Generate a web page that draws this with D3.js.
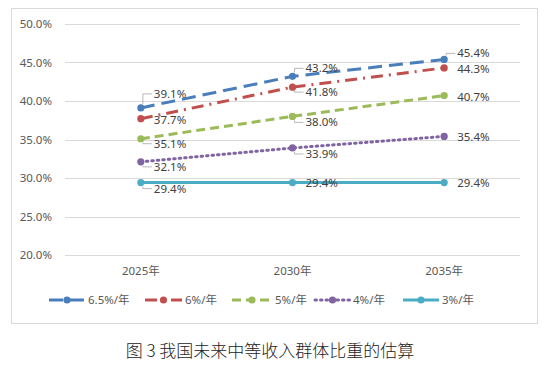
<!DOCTYPE html>
<html><head><meta charset="utf-8">
<script src="https://cdn.jsdelivr.net/npm/d3@7"></script>
<style>body{margin:0;background:#fff;} text{font-family:"Noto Sans","Noto Sans CJK SC",sans-serif;}</style>
</head><body>
<svg id="c" width="550" height="365"></svg>
<script>
const categories = ["2025年","2030年","2035年"];
const seriesNames = ["6.5%/年","6%/年","5%/年","4%/年","3%/年"];
const v65 = [39.1, 43.2, 45.4];
const v6  = [37.7, 41.8, 44.3];
const v5  = [35.1, 38.0, 40.7];
const v4  = [32.1, 33.9, 35.4];
const v3  = [29.4, 29.4, 29.4];
const yTicks = [20,25,30,35,40,45,50];
const colors = ["#4a7ebb","#c0504d","#9bbb59","#8064a2","#4bacc6"];
const dashes = ["14,7","12,6,2,6","9,5","1.5,4","none"];
const caption = "图 3  我国未来中等收入群体比重的估算";
// label vertical offsets from the point, per series per category
const labelDy = [[-14,-8,-6],[1,5,1],[5,6,1],[5,6,1],[6,0,0]];

const series = [v65,v6,v5,v4,v3];
const svg = d3.select("#c");
svg.append("rect").attr("x",11.5).attr("y",8.5).attr("width",526).attr("height",315)
  .attr("fill","#fff").attr("stroke","#d9d9d9");

const x = d3.scaleBand().domain(categories).range([65,520]);
const y = d3.scaleLinear().domain([20,50]).range([255,24]);
const cx = c => x(c)+x.bandwidth()/2;

// grid
svg.append("g").selectAll("line").data(yTicks).join("line")
  .attr("x1",65).attr("x2",520).attr("y1",d=>Math.round(y(d))+0.5).attr("y2",d=>Math.round(y(d))+0.5)
  .attr("stroke","#d9d9d9").attr("stroke-width",1);

const yAxis = d3.axisLeft(y).tickValues(yTicks).tickFormat(d=>d.toFixed(1)+"%").tickSize(0).tickPadding(13);
svg.append("g").attr("transform","translate(65,0)").call(yAxis)
  .call(g=>g.select(".domain").remove())
  .selectAll("text").attr("fill","#595959").style("font-size","11.5px");

const xAxis = d3.axisBottom(x).tickSize(0).tickPadding(12);
svg.append("g").attr("transform","translate(0,255)").call(xAxis)
  .call(g=>g.select(".domain").remove())
  .selectAll("text").attr("fill","#595959").style("font-size","11.5px");

const line = d3.line().x((d,i)=>cx(categories[i])).y(d=>y(d));
series.forEach((s,k)=>{
  svg.append("path").datum(s).attr("d",line).attr("fill","none")
    .attr("stroke",colors[k]).attr("stroke-width",3)
    .attr("stroke-dasharray",dashes[k]).attr("stroke-linecap", k===3?"round":"butt");
  svg.append("g").selectAll("circle").data(s).join("circle")
    .attr("cx",(d,i)=>cx(categories[i])).attr("cy",d=>y(d)).attr("r",3.6).attr("fill",colors[k]);
});
// labels
series.forEach((s,k)=>{
  s.forEach((d,i)=>{
    const px = cx(categories[i]), py = y(d);
    const dy = labelDy[k][i];
    const ly = py + dy;
    const lx = px + 13;
    if (Math.abs(dy)>=5) {
      svg.append("path").attr("d",`M${px+2},${py+(dy<0?-4:4)}V${ly}H${lx-2}`)
        .attr("fill","none").attr("stroke","#a6a6a6").attr("stroke-width",0.8);
    }
    svg.append("text").attr("x",lx).attr("y",ly).attr("dy","0.35em")
      .attr("fill","#404040").style("font-size","11.5px").text(d.toFixed(1)+"%");
  });
});

// legend
const legX = [49,145,232,315,403];
const legTextX = [88,185,275,353,442];
const lg = svg.append("g");
seriesNames.forEach((n,k)=>{
  const x0 = legX[k], x1 = legTextX[k]-3, ly = 300;
  lg.append("line").attr("x1",x0).attr("x2",x1).attr("y1",ly).attr("y2",ly)
    .attr("stroke",colors[k]).attr("stroke-width",3).attr("stroke-dasharray",dashes[k])
    .attr("stroke-linecap", k===3?"round":"butt");
  lg.append("circle").attr("cx",(x0+x1)/2).attr("cy",ly).attr("r",3.6).attr("fill",colors[k]);
  lg.append("text").attr("x",legTextX[k]).attr("y",ly).attr("dy","0.35em")
    .attr("fill","#595959").style("font-size","11.5px").text(n);
});

svg.append("text").attr("x",270).attr("y",351).attr("dy","0.35em").attr("text-anchor","middle")
  .attr("fill","#222").style("font-size","17px").style("font-family","'Noto Sans CJK SC',serif")
  .style("font-weight","300").text(caption);
</script>
</body></html>
